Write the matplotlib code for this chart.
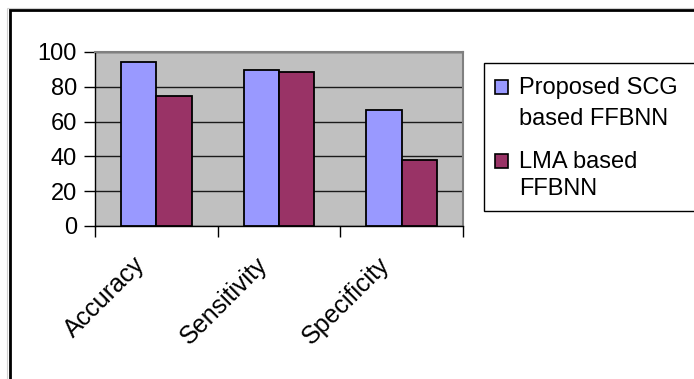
import numpy as np
import matplotlib
matplotlib.use("Agg")
import matplotlib.pyplot as plt
from matplotlib.patches import Rectangle
from matplotlib.transforms import ScaledTranslation

plt.rcParams['font.family'] = ['Liberation Sans', 'DejaVu Sans']

categories = ["Accuracy", "Sensitivity", "Specificity"]
scg_values = [94.3, 89.7, 66.8]
lma_values = [74.5, 88.6, 37.9]
series_names = [["Proposed SCG", "based FFBNN"], ["LMA based", "FFBNN"]]
series_colors = ["#9999FF", "#993366"]
y_ticks = [0, 20, 40, 60, 80, 100]

W, H = 694, 379
fig = plt.figure(figsize=(W / 100, H / 100), dpi=100)


def fx(px):
    return px / W


def fy(py):
    return 1 - py / H


# outer chart frame (runs off the right and bottom edge)
fig.patches.append(Rectangle((fx(7), -0.05), 1.2, fy(7.5) + 0.05,
                             transform=fig.transFigure, fill=False,
                             edgecolor="#d0d0d0", linewidth=0.8))
fig.patches.append(Rectangle((fx(9.5), -0.05), 1.2, fy(10) + 0.05,
                             transform=fig.transFigure, fill=False,
                             edgecolor="black", linewidth=2.0))

ax = fig.add_axes([fx(95), fy(226), fx(463 - 95), (226 - 52) / H])
ax.set_facecolor("#C0C0C0")

x = np.arange(len(categories))
w = 0.287
ax.bar(x - w / 2, scg_values, w, color=series_colors[0], edgecolor="black",
       linewidth=1.3, zorder=3)
ax.bar(x + w / 2, lma_values, w, color=series_colors[1], edgecolor="black",
       linewidth=1.3, zorder=3)

ax.set_xlim(-0.5, len(categories) - 0.5)
ax.set_ylim(0, 100)
ax.set_yticks(y_ticks)
ax.yaxis.grid(True, color="#1a1a1a", linewidth=1.0, zorder=1)
ax.set_axisbelow(True)

ax.tick_params(axis="y", direction="out", length=8, width=1, labelsize=17,
               pad=5)
ax.set_xticks(x)
ax.set_xticklabels(categories, rotation=45, ha="right", va="top", fontsize=18)
ax.set_xticks(np.arange(len(categories) + 1) - 0.5, minor=True)
ax.tick_params(axis="x", which="major", length=0, pad=19)
ax.tick_params(axis="x", which="minor", direction="out", length=8, width=1)
for lbl in ax.get_xticklabels():
    lbl.set_transform(lbl.get_transform() +
                      ScaledTranslation(-7 / 100, 0, fig.dpi_scale_trans))

for side in ["left", "bottom"]:
    ax.spines[side].set_color("black")
    ax.spines[side].set_linewidth(1.0)
for side in ["top", "right"]:
    ax.spines[side].set_color("#808080")
    ax.spines[side].set_linewidth(1.5)

# legend: box cut by the right edge, swatch next to the first line of each label
fig.patches.append(Rectangle((fx(484), fy(211)), 0.5, (211 - 63) / H,
                             transform=fig.transFigure, facecolor="white",
                             edgecolor="black", linewidth=1.0))
baselines = [[94, 125], [168, 195]]
for lines, color, bl in zip(series_names, series_colors, baselines):
    fig.patches.append(Rectangle((fx(495), fy(bl[0])), 13 / W, 14 / H,
                                 transform=fig.transFigure, facecolor=color,
                                 edgecolor="black", linewidth=1.2))
    for line, yb in zip(lines, bl):
        fig.text(fx(519), fy(yb), line, fontsize=17, ha="left",
                 va="baseline")

fig.savefig("out.png", dpi=100)
